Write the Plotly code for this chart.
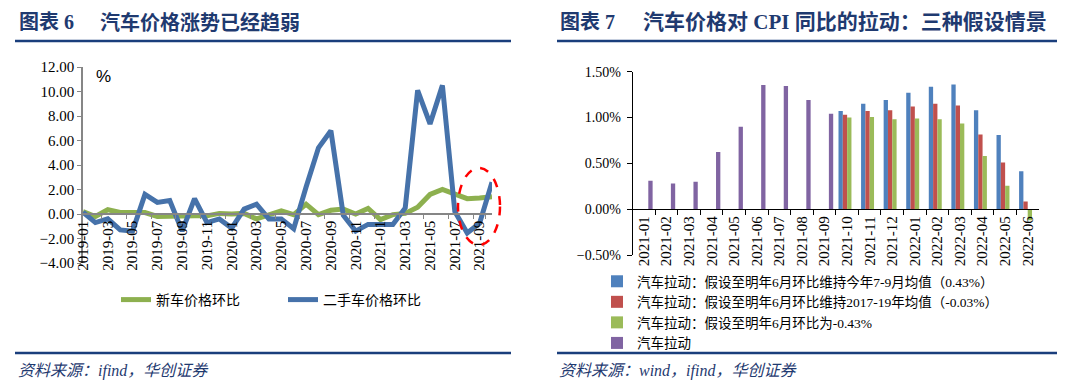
import plotly.graph_objects as go

# ---------------- data: left chart ----------------
months_left = [f"{y}-{m:02d}" for y in (2019, 2020, 2021) for m in range(1, 13)][:34]
new_car = [0.2, -0.2, 0.35, 0.12, 0.12, 0.12, -0.2, -0.15, -0.15, -0.15, -0.15, 0.05,
           0.0, 0.05, -0.4, -0.05, 0.25, -0.05, 0.8, -0.05, 0.3, 0.4, 0.0, 0.45,
           -0.45, -0.05, 0.05, 0.55, 1.6, 2.0, 1.65, 1.25, 1.3, 1.4]
used_car = [0.15, -0.7, -0.4, -1.3, -1.4, 1.6, 0.95, 1.1, -1.4, 1.25, -0.7, -0.4,
            -1.15, 0.4, 0.8, -0.4, -0.4, -1.2, 2.2, 5.4, 6.8, -0.1, -1.4, -0.85,
            -0.85, -0.85, 0.5, 10.1, 7.35, 10.5, 0.2, -1.55, -0.75, 2.6]
left_ticks = months_left[::2]

# ---------------- data: right chart ----------------
months_right = [f"2021-{m:02d}" for m in range(1, 13)] + [f"2022-{m:02d}" for m in range(1, 7)]
N = None
pull_q3 = [N] * 9 + [1.07, 1.15, 1.19, 1.27, 1.335, 1.36, 1.08, 0.81, 0.415]
pull_hist = [N] * 9 + [1.03, 1.07, 1.08, 1.12, 1.15, 1.13, 0.815, 0.51, 0.085]
pull_neg = [N] * 9 + [1.0, 1.005, 0.98, 0.99, 0.98, 0.935, 0.58, 0.255, -0.12]
pull_actual = [0.31, 0.28, 0.30, 0.625, 0.90, 1.355, 1.345, 1.19, 1.04] + [N] * 9

names_right = [
    "汽车拉动：假设至明年6月环比维持今年7-9月均值（0.43%）",
    "汽车拉动：假设至明年6月环比维持2017-19年均值（-0.03%）",
    "汽车拉动：假设至明年6月环比为-0.43%",
    "汽车拉动",
]

# ---------------- styling helpers ----------------
W, H = 1076, 388
def fx(p):
    return p / W
def fy(p):
    return 1 - p / H

SERIF = "Liberation Serif, Noto Sans CJK SC"
NAVY = "#1F3A70"

fig = go.Figure()

fig.add_trace(go.Scatter(x=months_left, y=new_car, mode="lines", name="新车价格环比",
                         line=dict(color="#8DB04F", width=5), xaxis="x", yaxis="y",
                         legend="legend"))
fig.add_trace(go.Scatter(x=months_left, y=used_car, mode="lines", name="二手车价格环比",
                         line=dict(color="#4672AA", width=5), xaxis="x", yaxis="y",
                         legend="legend2"))

colors_right = ["#4F81BD", "#C0504D", "#9BBB59", "#8064A2"]
for vals, nm, c in zip([pull_q3, pull_hist, pull_neg, pull_actual], names_right, colors_right):
    fig.add_trace(go.Bar(x=months_right, y=vals, name=nm, marker=dict(color=c, line=dict(width=0)),
                         xaxis="x2", yaxis="y2", legend="legend3"))

# axis geometry
L_x0, L_x1, L_y0, L_y1 = 83, 492, 263, 67
R_x0, R_x1, R_y0, R_y1 = 632.7, 1039, 255, 71.7
l_ymin, l_ymax = -4, 12
r_ymin, r_ymax = -0.5, 1.5
l_zero = fy(L_y0) + (0 - l_ymin) / (l_ymax - l_ymin) * (fy(L_y1) - fy(L_y0))
r_zero = fy(R_y0) + (0 - r_ymin) / (r_ymax - r_ymin) * (fy(R_y1) - fy(R_y0))

GRAY = "#868686"
fig.update_layout(
    width=W, height=H, margin=dict(l=0, r=0, t=0, b=0, autoexpand=False),
    paper_bgcolor="white", plot_bgcolor="white",
    barmode="group", bargap=0.235, bargroupgap=0,
    font=dict(family=SERIF, color="black"),
    xaxis=dict(type="category", domain=[fx(L_x0), fx(L_x1)], anchor="free", position=l_zero,
               showline=True, linecolor=GRAY, linewidth=1.5, ticks="outside", ticklen=4,
               tickcolor=GRAY, tickvals=left_ticks, ticktext=left_ticks, tickangle=-90,
               tickfont=dict(size=15, family=SERIF), showgrid=False, zeroline=False,
               tickson="boundaries", ticklabelstandoff=0, automargin=False),
    yaxis=dict(domain=[fy(L_y0), fy(L_y1)], range=[l_ymin, l_ymax], dtick=2, tickformat=".2f",
               anchor="x", showline=True, linecolor=GRAY, linewidth=1.5, ticks="outside",
               ticklen=4, tickcolor=GRAY, showgrid=False, zeroline=False,
               tickfont=dict(size=15, family=SERIF), ticklabelstandoff=0, automargin=False),
    xaxis2=dict(type="category", domain=[fx(R_x0), fx(R_x1)], anchor="free", position=r_zero,
                showline=True, linecolor="black", linewidth=1, ticks="outside", ticklen=5,
                tickcolor="black", tickangle=-90, tickfont=dict(size=15, family=SERIF),
                showgrid=False, zeroline=False, tickson="boundaries", ticklabelstandoff=0,
                automargin=False),
    yaxis2=dict(domain=[fy(R_y0), fy(R_y1)], range=[r_ymin, r_ymax], dtick=0.5, tickformat=".2f",
                ticksuffix="%", anchor="x2", showline=True, linecolor="black", linewidth=1,
                ticks="outside", ticklen=5, tickcolor="black", showgrid=False, zeroline=False,
                tickfont=dict(size=14, family=SERIF), ticklabelstandoff=3, automargin=False),
    legend=dict(orientation="h", x=fx(116), y=fy(300), xanchor="left", yanchor="middle",
                font=dict(size=14, family=SERIF), bgcolor="rgba(0,0,0,0)"),
    legend2=dict(orientation="h", x=fx(283), y=fy(300), xanchor="left", yanchor="middle",
                 font=dict(size=14, family=SERIF), bgcolor="rgba(0,0,0,0)"),
    legend3=dict(orientation="v", x=fx(597), y=fy(266), xanchor="left", yanchor="top",
                 font=dict(size=13.5, family=SERIF), bgcolor="rgba(0,0,0,0)"),
    showlegend=True,
)

annotations = [
    dict(text="<b>图表 6</b>", x=fx(17), y=fy(22), xanchor="left", yanchor="middle"),
    dict(text="<b>汽车价格涨势已经趋弱</b>", x=fx(98), y=fy(22), xanchor="left", yanchor="middle"),
    dict(text="<b>图表 7</b>", x=fx(558), y=fy(22), xanchor="left", yanchor="middle"),
    dict(text="<b>汽车价格对 CPI 同比的拉动：三种假设情景</b>", x=fx(641), y=fy(22),
         xanchor="left", yanchor="middle"),
]
for a in annotations:
    a.update(xref="paper", yref="paper", showarrow=False, font=dict(size=20, family=SERIF, color=NAVY))
annotations[3]["font"] = dict(size=21, family=SERIF, color=NAVY)

sources = [
    dict(text="<i>资料来源：ifind，华创证券</i>", x=fx(16), y=fy(371)),
    dict(text="<i>资料来源：wind，ifind，华创证券</i>", x=fx(557), y=fy(371)),
]
for a in sources:
    a.update(xref="paper", yref="paper", showarrow=False, xanchor="left", yanchor="middle",
             font=dict(size=16, family=SERIF, color=NAVY))
annotations += sources
annotations.append(dict(text="%", x=fx(94), y=fy(77), xref="paper", yref="paper", showarrow=False,
                        xanchor="left", yanchor="middle",
                        font=dict(size=17, family="Liberation Sans", color="black")))
fig.update_layout(annotations=annotations)

shapes = []
for (x0, x1) in [(15, 511), (557, 1057)]:
    for yy in (41, 353):
        shapes.append(dict(type="line", xref="paper", yref="paper", x0=fx(x0), x1=fx(x1),
                           y0=fy(yy), y1=fy(yy), line=dict(color="#1A3E7C", width=2.5)))
shapes.append(dict(type="circle", xref="paper", yref="paper", x0=fx(458), x1=fx(500),
                   y0=fy(245), y1=fy(168), line=dict(color="#FF0000", width=2.5, dash="dash")))
fig.update_layout(shapes=shapes)

fig.write_html("out.html", config={"displayModeBar": False},
               post_script="document.body.style.margin='0px';")
